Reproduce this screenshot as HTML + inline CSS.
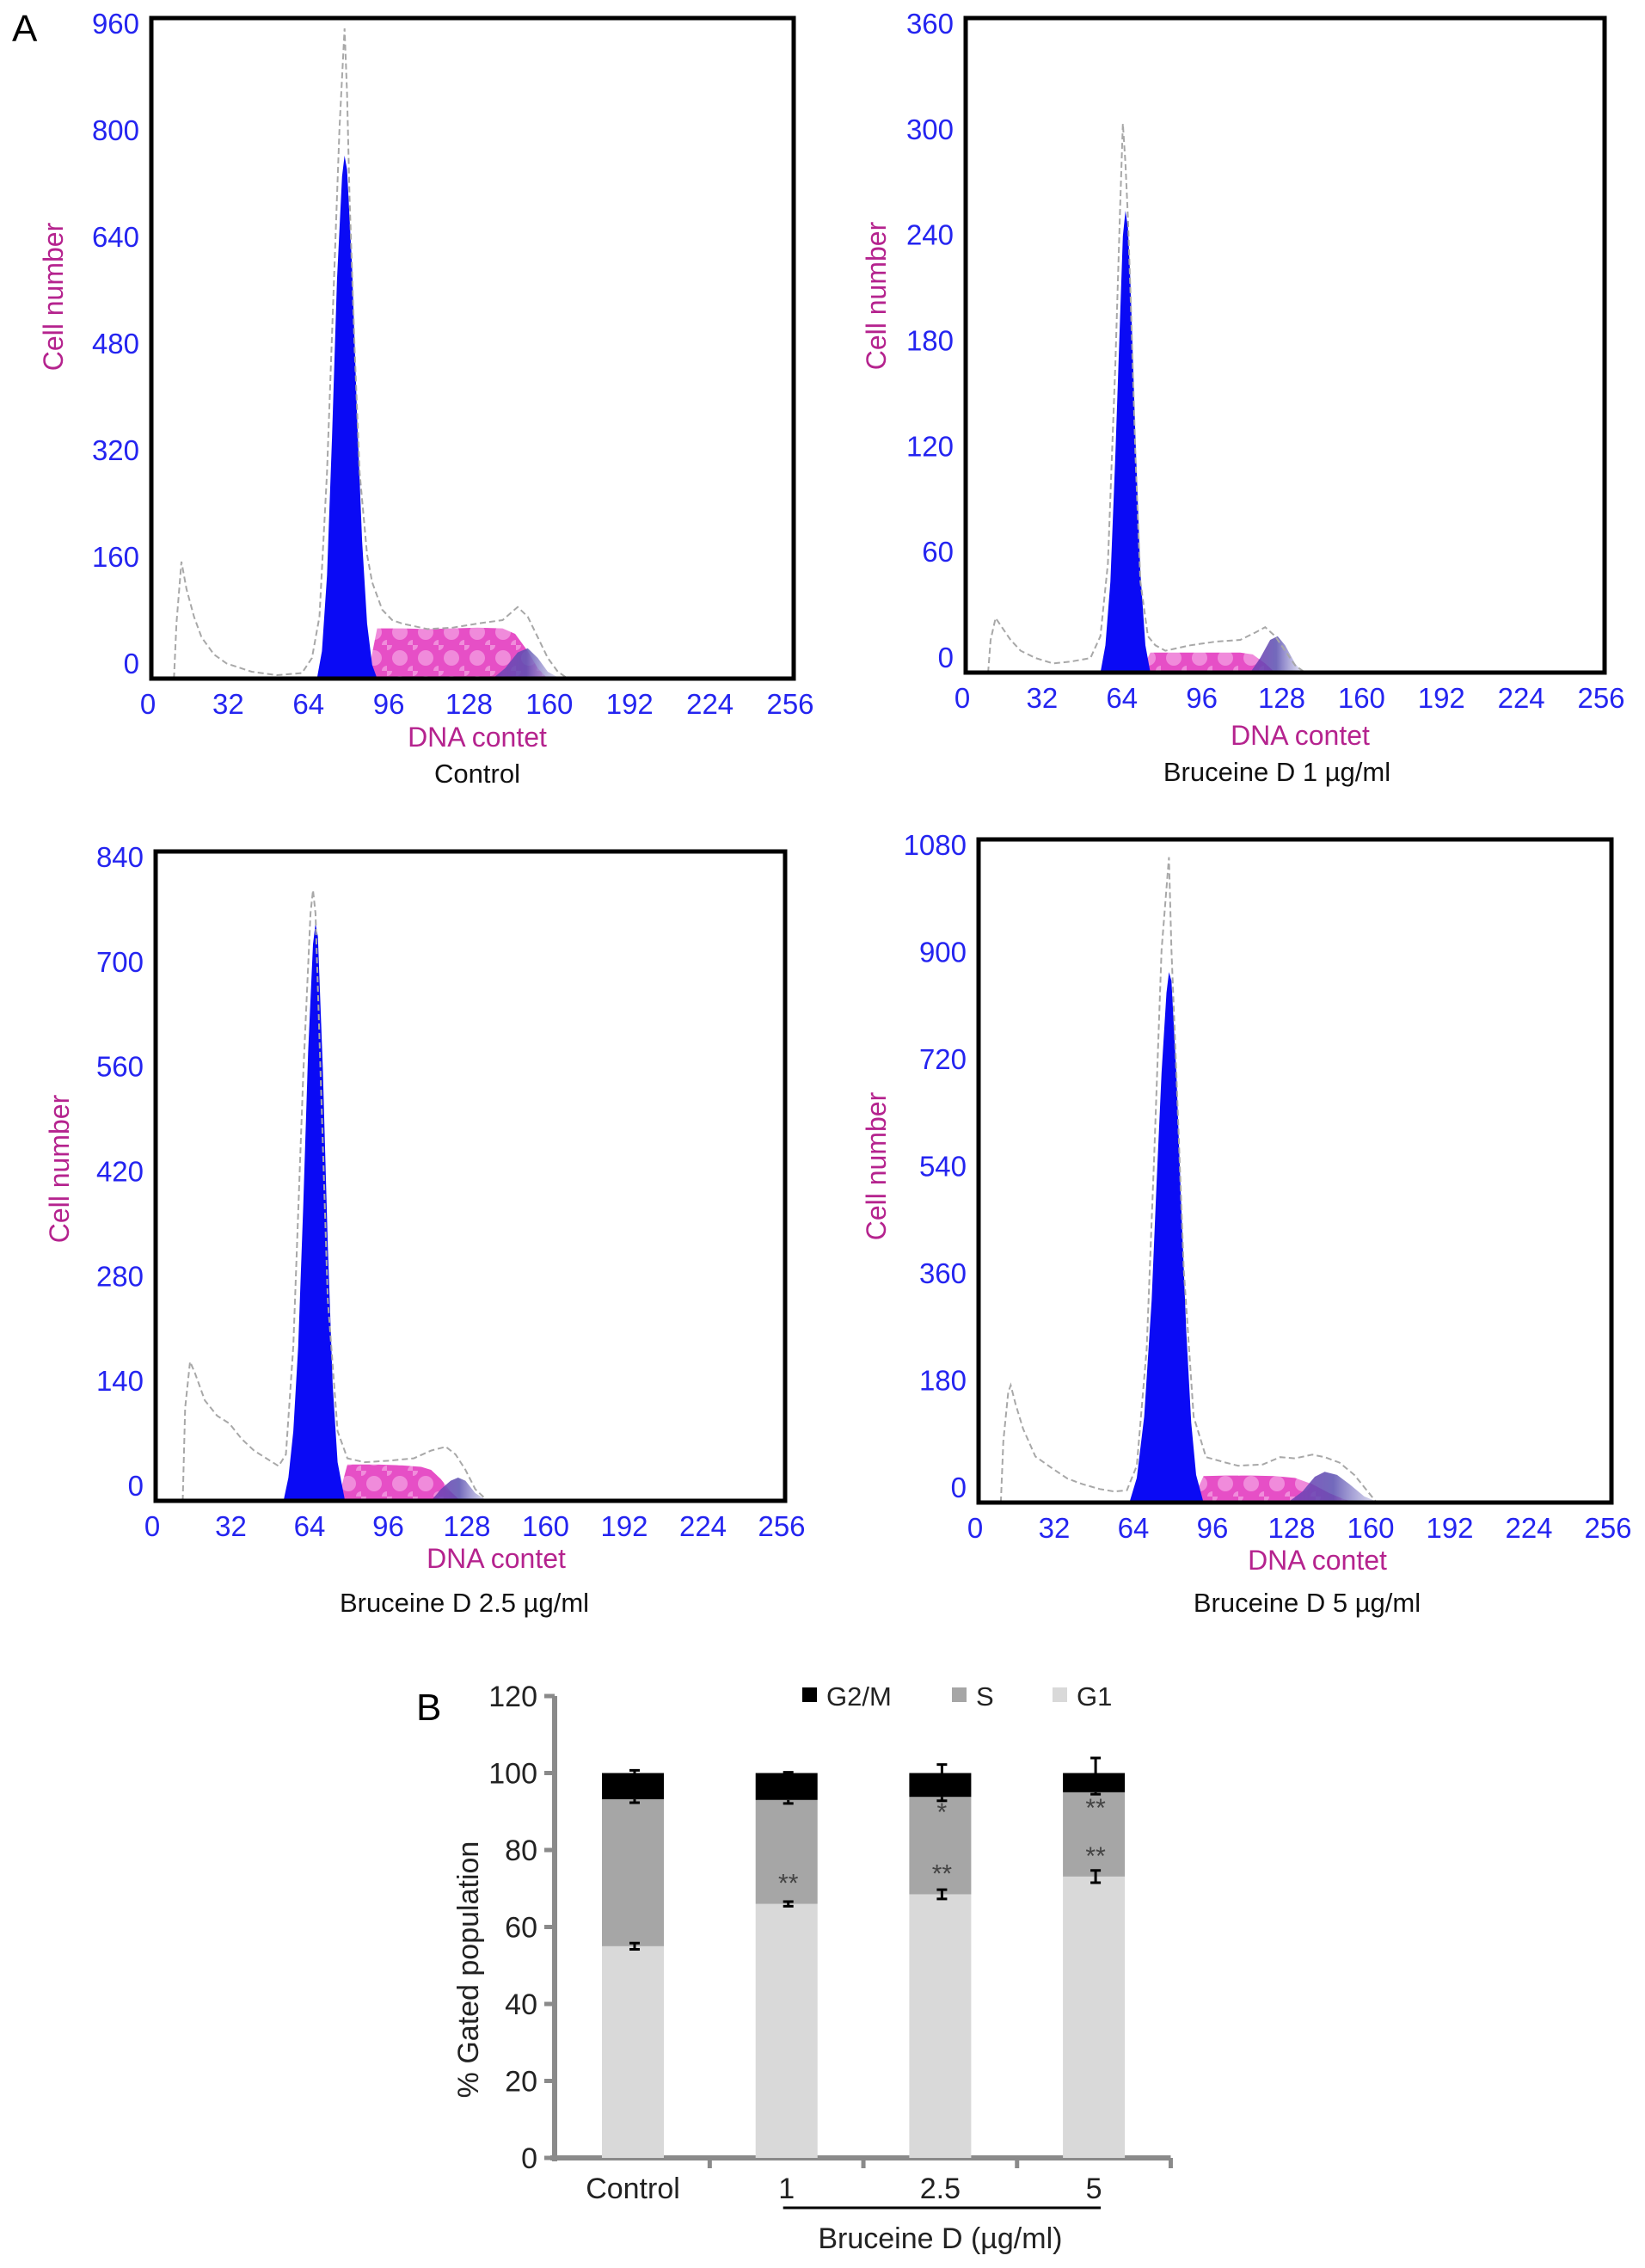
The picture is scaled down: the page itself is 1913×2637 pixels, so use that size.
<!DOCTYPE html>
<html><head><meta charset="utf-8">
<style>
html,body{margin:0;padding:0;background:#fff;}
svg{display:block;font-family:"Liberation Sans",Arial,sans-serif;}
</style></head>
<body>
<svg id="fig" width="1913" height="2637" viewBox="0 0 1913 2637" xmlns="http://www.w3.org/2000/svg">
<defs>
<pattern id="pinkPat" width="30" height="30" patternUnits="userSpaceOnUse">
<rect width="30" height="30" fill="#e64fc6"/>
<circle cx="15" cy="15" r="9" fill="#f39ae0" opacity="0.8"/>
<circle cx="0" cy="0" r="6" fill="#f7b6ea" opacity="0.6"/>
<circle cx="30" cy="30" r="6" fill="#f7b6ea" opacity="0.6"/>
</pattern>
<linearGradient id="g2Grad" x1="0" y1="0" x2="1" y2="0">
<stop offset="0" stop-color="#7a3fb8" stop-opacity="0.9"/>
<stop offset="0.5" stop-color="#5a4fb0" stop-opacity="0.85"/>
<stop offset="1" stop-color="#d8d8f0" stop-opacity="0.7"/>
</linearGradient>
</defs>
<text x="14" y="48" font-size="44" fill="#000">A</text>
<text x="484" y="2000" font-size="44" fill="#000">B</text>
<g id="hists"></g>
<g id="bars"></g>
</svg>
<script>
// ---------- Histogram data (panel A) ----------
const p1Ticks = [0,160,320,480,640,800,960];
const p1G1X = [66,68,70,72,74,76,77,78,80,82,84,86,88,90];
const p1G1Y = [0,40,150,350,580,730,760,740,600,380,200,80,20,0];
const p1SX = [86,90,100,110,120,130,140,145,150,154,158];
const p1SY = [0,73,73,72,73,74,73,65,40,15,0];
const p1G2X = [136,141,146,150,154,158,163];
const p1G2Y = [0,15,38,44,30,10,0];
const p1RawX = [9,10,12,14,17,20,25,30,40,50,60,64,67,70,73,75,77,78,79,81,83,86,88,92,96,100,110,120,130,140,146,150,154,158,162,166];
const p1RawY = [0,80,170,130,90,60,35,22,10,5,8,30,90,300,600,800,945,850,700,480,300,180,140,100,85,80,72,74,80,85,104,90,60,30,10,0];

const p2Ticks = [0,60,120,180,240,300,360];
const p2G1X = [54,56,58,60,62,63,64,65,66,68,70,72,74];
const p2G1Y = [0,15,50,120,200,240,254,245,215,130,55,15,0];
const p2SX = [70,74,90,100,110,115,120,124];
const p2SY = [0,11,11,11,11,10,5,0];
const p2G2X = [114,118,122,125,128,132,135];
const p2G2Y = [0,8,18,20,15,5,0];
const p2RawX = [9,10,12,14,18,22,28,35,42,50,54,57,60,62,63,64,65,66,68,70,73,76,80,90,100,110,116,120,124,128,132,136];
const p2RawY = [0,18,30,26,18,12,8,5,6,8,20,60,170,260,302,280,250,210,120,50,20,15,12,15,17,18,22,25,20,12,4,0];

const p3Ticks = [0,140,280,420,560,700,840];
const p3G1X = [52,54,56,58,60,62,64,65,66,68,70,72,74,77];
const p3G1Y = [0,30,90,200,380,580,720,747,730,560,330,150,50,0];
const p3SX = [74,78,90,100,108,112,116,120,124];
const p3SY = [0,47,47,46,44,40,28,12,0];
const p3G2X = [112,116,120,123,126,130,135];
const p3G2Y = [0,15,26,30,26,10,0];
const p3RawX = [11,12,14,16,20,25,30,35,40,45,50,53,56,60,63,64,65,67,70,74,78,85,95,105,112,118,122,126,130,135];
const p3RawY = [0,120,180,165,130,110,100,80,65,55,45,60,200,550,760,790,760,560,260,90,55,50,52,55,65,70,60,40,15,0];

const p4Ticks = [0,180,360,540,720,900,1080];
const p4G1X = [61,64,67,70,72,74,76,77,78,80,82,84,86,88,91];
const p4G1Y = [0,40,140,330,520,700,830,864,850,700,480,280,130,45,0];
const p4SX = [86,91,100,110,120,128,135,142,148,153];
const p4SY = [0,43,44,44,43,40,30,15,5,0];
const p4G2X = [125,131,136,140,145,150,156,162];
const p4G2Y = [0,18,42,50,45,30,10,0];
const p4RawX = [9,10,12,13,15,18,23,30,36,42,49,55,60,64,68,71,74,76,77,78,80,83,87,92,100,105,115,122,128,135,140,146,152,157,161];
const p4RawY = [0,100,180,191,160,120,75,55,39,30,22,18,20,60,250,560,900,1000,1051,900,700,380,140,74,65,60,62,74,72,78,74,65,45,20,0];

const xTicks = [0,32,64,96,128,160,192,224,256];

// ---------- Bar chart data (panel B) ----------
const barCats = ["Control","1","2.5","5"];
const g1Vals = [55,66,68.5,73.1];
const sVals = [38.2,27,25.3,21.9];
const g2mVals = [6.8,7,6.2,5];
const g1Err = [0.8,0.6,1.2,1.6];
const sErr = [0.9,0.9,1.0,0.5];
const g2mErr = [0.7,0.2,2.2,3.9];
const g1Stars = ["","**","**","**"];
const sStars = ["","","*","**"];
const yTicksB = [0,20,40,60,80,100,120];

const NS = "http://www.w3.org/2000/svg";
function mk(tag, attrs, parent){
  const e = document.createElementNS(NS, tag);
  for (const k in attrs) e.setAttribute(k, attrs[k]);
  parent.appendChild(e);
  return e;
}

const panels = [
  {key:"control", box:[176,21,923,789], ticks:p1Ticks, g1:[p1G1X,p1G1Y], s:[p1SX,p1SY], g2:[p1G2X,p1G2Y], raw:[p1RawX,p1RawY], title:"Control", cellX:63, cellY:345, dnaX:555, dnaY:868, titleX:555, titleY:910},
  {key:"bd1", box:[1123,21,1866,782], ticks:p2Ticks, g1:[p2G1X,p2G1Y], s:[p2SX,p2SY], g2:[p2G2X,p2G2Y], raw:[p2RawX,p2RawY], title:"Bruceine D 1 \u00b5g/ml", cellX:1020, cellY:344, dnaX:1512, dnaY:866, titleX:1485, titleY:908},
  {key:"bd2-5", box:[181,990,913,1745], ticks:p3Ticks, g1:[p3G1X,p3G1Y], s:[p3SX,p3SY], g2:[p3G2X,p3G2Y], raw:[p3RawX,p3RawY], title:"Bruceine D 2.5 \u00b5g/ml", cellX:70, cellY:1359, dnaX:577, dnaY:1823, titleX:540, titleY:1874},
  {key:"bd5", box:[1138,976,1874,1747], ticks:p4Ticks, g1:[p4G1X,p4G1Y], s:[p4SX,p4SY], g2:[p4G2X,p4G2Y], raw:[p4RawX,p4RawY], title:"Bruceine D 5 \u00b5g/ml", cellX:1020, cellY:1356, dnaX:1532, dnaY:1825, titleX:1520, titleY:1874}
];

const hg = document.getElementById("hists");
panels.forEach(p => {
  const [x0,y0,x1,y1] = p.box;
  const ymax = p.ticks[p.ticks.length-1];
  const xs = v => x0 + v/256*(x1-x0);
  const ys = v => y1 - v/ymax*(y1-y0);
  const g = mk("g", {}, hg);
  
  
  const area = (arr) => {
    let d = "M" + xs(arr[0][0]) + "," + ys(0);
    arr[0].forEach((v,i)=>{ d += " L" + xs(v).toFixed(1) + "," + ys(arr[1][i]).toFixed(1); });
    d += " L" + xs(arr[0][arr[0].length-1]) + "," + ys(0) + " Z";
    return d;
  };
  const line = (arr) => {
    let d = "";
    arr[0].forEach((v,i)=>{ d += (i?" L":"M") + xs(v).toFixed(1) + "," + ys(arr[1][i]).toFixed(1); });
    return d;
  };
  const sp = mk("path", {d:area(p.s), fill:"url(#pinkPat)"}, g);
  
  
  const g2p = mk("path", {d:area(p.g2), fill:"url(#g2Grad)"}, g);
  
  
  const g1p = mk("path", {d:area(p.g1), fill:"#0a0af5"}, g);
  
  
  const rp = mk("path", {d:line(p.raw), fill:"none", stroke:"#a8a8a8", "stroke-width":"2", "stroke-dasharray":"7 4"}, g);
  
  
  const bx = mk("rect", {x:x0, y:y0, width:x1-x0, height:y1-y0, fill:"none", stroke:"#000", "stroke-width":"5"}, g);
  
  
  const top = y0 + 6, bot = y1 - 18;
  p.ticks.forEach((t,i) => {
    const yy = bot - t/ymax*(bot-top);
    const tx = mk("text", {x:x0-14, y:yy+12, "font-size":"33", fill:"#2424f0", "text-anchor":"end"}, g);
    tx.textContent = t;
    
    
  });
  xTicks.forEach(t => {
    const tx = mk("text", {x:xs(t)-4, y:y1+41, "font-size":"33", fill:"#2424f0", "text-anchor":"middle"}, g);
    tx.textContent = t;
    
    
  });
  const cn = mk("text", {x:p.cellX+10, y:p.cellY, "font-size":"32", fill:"#b5238e", "text-anchor":"middle", transform:"rotate(-90 "+(p.cellX+10)+" "+p.cellY+")"}, g);
  cn.textContent = "Cell number";
  
  
  const dn = mk("text", {x:p.dnaX, y:p.dnaY, "font-size":"32", fill:"#b5238e", "text-anchor":"middle"}, g);
  dn.textContent = "DNA contet";
  
  
  const tt = mk("text", {x:p.titleX, y:p.titleY, "font-size":"31", fill:"#111", "text-anchor":"middle"}, g);
  tt.textContent = p.title;
  
  
});

// ---------- Bar chart ----------
const bg = document.getElementById("bars");
const axX = 645, y0B = 2509, pxPerUnit = 4.475;
const yB = v => y0B - v*pxPerUnit;
const cx0 = 736, cStep = 178.7, bw = 72;
const xB = i => cx0 + i*cStep;
const axis = mk("path", {d:"M"+axX+","+yB(120)+" L"+axX+","+(y0B+4)+" M"+(axX-5)+","+y0B+" L"+(xB(3)+cStep/2)+","+y0B, stroke:"#8a8a8a", "stroke-width":"6", fill:"none"}, bg);


yTicksB.forEach(t => {
  const tk = mk("line", {x1:axX-12, x2:axX, y1:yB(t), y2:yB(t), stroke:"#8a8a8a", "stroke-width":"5"}, bg);
  
  
  const tx = mk("text", {x:axX-20, y:yB(t)+12, "font-size":"34", fill:"#222", "text-anchor":"end"}, bg);
  tx.textContent = t;
  
  
});
for (let i=1;i<=barCats.length;i++){
  const xx = xB(i-1)+cStep/2;
  const tk = mk("line", {x1:xx, x2:xx, y1:y0B, y2:y0B+12, stroke:"#8a8a8a", "stroke-width":"5"}, bg);
  
  
}
barCats.forEach((c,i) => {
  const cx = xB(i), x = cx - bw/2;
  const g1 = g1Vals[i], s = sVals[i], g2 = g2mVals[i];
  const r1 = mk("rect", {x:x, y:yB(g1), width:bw, height:yB(0)-yB(g1), fill:"#d9d9d9"}, bg);
  
  
  const r2 = mk("rect", {x:x, y:yB(g1+s), width:bw, height:yB(g1)-yB(g1+s), fill:"#a6a6a6"}, bg);
  
  
  const r3 = mk("rect", {x:x, y:yB(g1+s+g2), width:bw, height:yB(g1+s)-yB(g1+s+g2), fill:"#000"}, bg);
  
  
  const eb = (v, e, up, down) => {
    const ex = cx + 2;
    let d = "M"+ex+","+yB(v+(up?e:0))+" L"+ex+","+yB(v-(down?e:0));
    if (up) d += " M"+(ex-6)+","+yB(v+e)+" L"+(ex+6)+","+yB(v+e);
    if (down) d += " M"+(ex-6)+","+yB(v-e)+" L"+(ex+6)+","+yB(v-e);
    const p = mk("path", {d:d, stroke:"#000", "stroke-width":"3", fill:"none"}, bg);
    
    
  };
  eb(g1, g1Err[i], true, true);
  eb(g1+s, sErr[i], false, true);
  eb(g1+s+g2, g2mErr[i], true, false);
  if (g1Stars[i]) {
    const st = mk("text", {x:cx+2, y:yB(g1)-14, "font-size":"30", fill:"#444", "text-anchor":"middle"}, bg);
    st.textContent = g1Stars[i];
    
    
  }
  if (sStars[i]) {
    const st = mk("text", {x:cx+2, y:yB(g1+s)+28, "font-size":"30", fill:"#444", "text-anchor":"middle"}, bg);
    st.textContent = sStars[i];
    
    
  }
  const lb = mk("text", {x:cx, y:2556, "font-size":"34", fill:"#222", "text-anchor":"middle"}, bg);
  lb.textContent = c;
  
  
});
const br = mk("line", {x1:xB(1)-4, x2:xB(3)+8, y1:2567, y2:2567, stroke:"#000", "stroke-width":"3"}, bg);


const bt = mk("text", {x:xB(2), y:2614, "font-size":"34", fill:"#222", "text-anchor":"middle"}, bg);
bt.textContent = "Bruceine D (\u00b5g/ml)";


const yt = mk("text", {x:556, y:2290, "font-size":"34", fill:"#222", "text-anchor":"middle", transform:"rotate(-90 556 2290)"}, bg);
yt.textContent = "% Gated population";


const legendItems = [["G2/M","#000",933],["S","#a6a6a6",1107],["G1","#d9d9d9",1224]];
legendItems.forEach(li => {
  const sq = mk("rect", {x:li[2], y:1962, width:17, height:17, fill:li[1]}, bg);
  
  
  const lt = mk("text", {x:li[2]+28, y:1983, "font-size":"31", fill:"#222"}, bg);
  lt.textContent = li[0];
  
  
});
</script>
</body></html>
